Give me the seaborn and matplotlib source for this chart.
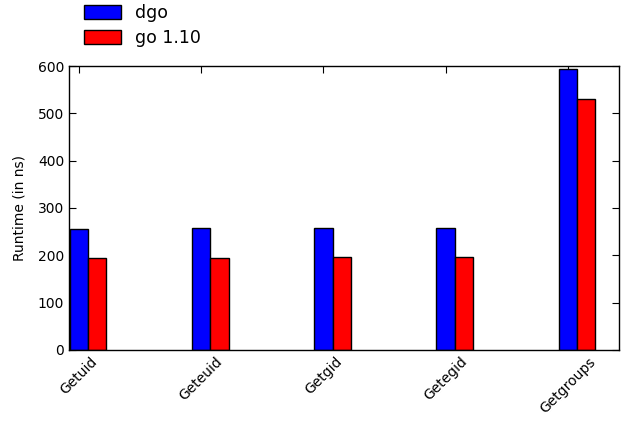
import numpy as np
import pandas as pd
import seaborn as sns
import matplotlib
matplotlib.use("Agg")
import matplotlib.pyplot as plt

calls = ["Getuid", "Geteuid", "Getgid", "Getegid", "Getgroups"]
dgo = [255, 257, 257, 257, 593]
go110 = [195, 195, 197, 197, 530]
series = ["dgo", "go 1.10"]

df = pd.DataFrame({
    "call": calls * 2,
    "runtime": dgo + go110,
    "version": [series[0]] * len(calls) + [series[1]] * len(calls),
})

sns.set_style("ticks")
plt.rcParams["font.family"] = ["DejaVu Sans"]
plt.rcParams.update({"text.color": "black", "axes.labelcolor": "black",
                     "xtick.color": "black", "ytick.color": "black"})

fig = plt.figure(figsize=(6.21, 4.24), dpi=100)
ax = fig.add_axes([0.111, 0.175, 0.886, 0.669])

w = 0.3
sns.barplot(data=df, x="call", y="runtime", hue="version", order=calls,
            hue_order=series, palette=["#0000ff", "#ff0000"], saturation=1,
            width=w, edgecolor="black", linewidth=1, ax=ax)

pos = np.arange(len(calls)) - w / 4
ax.set_xticks(pos)
ax.set_xticklabels(calls, rotation=45, ha="center", fontsize=10)
ax.set_xlim(-0.157, 4.345)
ax.set_ylim(0, 600)
ax.set_yticks(range(0, 601, 100))
ax.tick_params(axis="y", labelsize=10)
ax.tick_params(direction="in", top=True, right=True, length=5, width=0.8,
               color="black")
ax.set_xlabel("")
ax.set_ylabel("Runtime (in ns)", fontsize=10, labelpad=8)
for s in ax.spines.values():
    s.set_visible(True)
    s.set_linewidth(1)
    s.set_color("black")

handles, labels = ax.get_legend_handles_labels()
ax.legend(handles, labels, loc="lower left", bbox_to_anchor=(0.006, 1.025),
          frameon=False, fontsize=12.5, handlelength=2.1, handleheight=0.8,
          borderaxespad=0.3, labelspacing=0.4)

fig.savefig("out.png", dpi=100)
